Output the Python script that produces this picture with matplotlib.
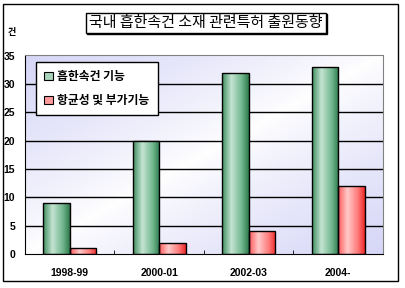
import matplotlib
matplotlib.use("Agg")
import matplotlib.pyplot as plt
import numpy as np
from matplotlib.patches import Rectangle
from matplotlib.colors import LinearSegmentedColormap

plt.rcParams['font.family'] = ['Noto Sans CJK KR', 'DejaVu Sans']

periods = ['1998-99', '2000-01', '2002-03', '2004-']
quick_dry = [9, 20, 32, 33]
antibac = [1, 2, 4, 12]
series_names = ['흡한속건 기능', '항균성 및 부가기능']
title = '국내 흡한속건 소재 관련특허 출원동향'
unit = '건'

W, H = 406, 288
fig = plt.figure(figsize=(W / 100, H / 100), dpi=100)
ax = fig.add_axes([25 / W, 1 - 254 / H, 358 / W, 198.5 / H])

# background gradient (lavender corners, white diagonal)
u, v = np.meshgrid(np.linspace(0, 1, 200), np.linspace(1, 0, 200))
t = np.abs(u - v) ** 0.8
lav = np.array([0.84, 0.84, 0.97])
bg = (1 - t)[..., None] * np.ones(3) + t[..., None] * lav
ax.imshow(bg, extent=[-0.5, 3.5, 0, 35], aspect='auto', zorder=0)

green_cm = LinearSegmentedColormap.from_list('g', [(0, '#3f8f60'), (0.35, '#c4e4d2'),
                                                   (0.75, '#6fb58c'), (1, '#2f7a4e')])
red_cm = LinearSegmentedColormap.from_list('r', [(0, '#ff5a5a'), (0.35, '#ffcaca'),
                                                 (0.75, '#ff7878'), (1, '#ee2a2a')])
grad = np.linspace(0, 1, 64)[None, :]

bw = 0.296
x = np.arange(len(periods))
for vals, cm, off in [(quick_dry, green_cm, -bw / 2), (antibac, red_cm, bw / 2)]:
    for xi, val in zip(x, vals):
        left = xi + off - bw / 2
        im = ax.imshow(grad, cmap=cm, extent=[left, left + bw, 0, val], aspect='auto', zorder=3)
        r = Rectangle((left, 0), bw, val, facecolor='none', edgecolor='black', lw=1, zorder=4)
        ax.add_patch(r)
        im.set_clip_path(r)

ax.set_xlim(-0.5, 3.5)
ax.set_ylim(0, 35)
ax.set_yticks(np.arange(0, 36, 5))
for yv in range(5, 35, 5):
    ax.axhline(yv, color='black', lw=1, zorder=2)

ax.set_xticks(x)
ax.set_xticklabels(periods, fontfamily='Liberation Sans', fontweight='bold', fontsize=7.5)
ax.tick_params(axis='x', length=0, pad=10)
ax.set_xticks([0.5, 1.5, 2.5], minor=True)
ax.tick_params(axis='x', which='minor', direction='in', length=3, color='black')
ax.tick_params(axis='y', length=0, pad=7)
for lb in ax.get_yticklabels():
    lb.set_fontfamily('Liberation Sans')
    lb.set_fontweight('bold')
    lb.set_fontsize(7.5)

for s in ['top', 'right']:
    ax.spines[s].set_color('#808080')
for s in ['left', 'bottom']:
    ax.spines[s].set_color('black')
    ax.spines[s].set_zorder(5)

handles = [Rectangle((0, 0), 1, 1, facecolor='#a8d4bb', edgecolor='black', lw=0.8),
           Rectangle((0, 0), 1, 1, facecolor='#ff9a9a', edgecolor='black', lw=0.8)]
leg = fig.legend(handles, series_names, loc='upper left',
                 bbox_to_anchor=(36 / W, 1 - 62 / H), borderaxespad=0,
                 fancybox=False, edgecolor='black', framealpha=1,
                 handlelength=0.7, handleheight=0.7, handletextpad=0.4,
                 labelspacing=0.9, borderpad=0.7, prop={'size': 8.5, 'weight': 'bold'})
leg.get_frame().set_linewidth(1)

# title box with a thin drop shadow
fig.text(207 / W, 1 - 24 / H, title, ha='center', va='center', fontsize=10.8, color='none',
         bbox=dict(boxstyle='square,pad=0.22', facecolor='black', edgecolor='black', lw=1))
fig.text(206 / W, 1 - 23 / H, title, ha='center', va='center', fontsize=10.8,
         bbox=dict(boxstyle='square,pad=0.22', facecolor='white', edgecolor='black', lw=1))
fig.text(12 / W, 1 - 32 / H, unit, ha='center', va='center', fontsize=6.5, fontweight='bold')

fig.patches.append(Rectangle((3 / W, 1 - 281 / H), 395 / W, 277 / H, transform=fig.transFigure,
                             fill=False, edgecolor='black', lw=1))

fig.savefig('out.png', dpi=100)
